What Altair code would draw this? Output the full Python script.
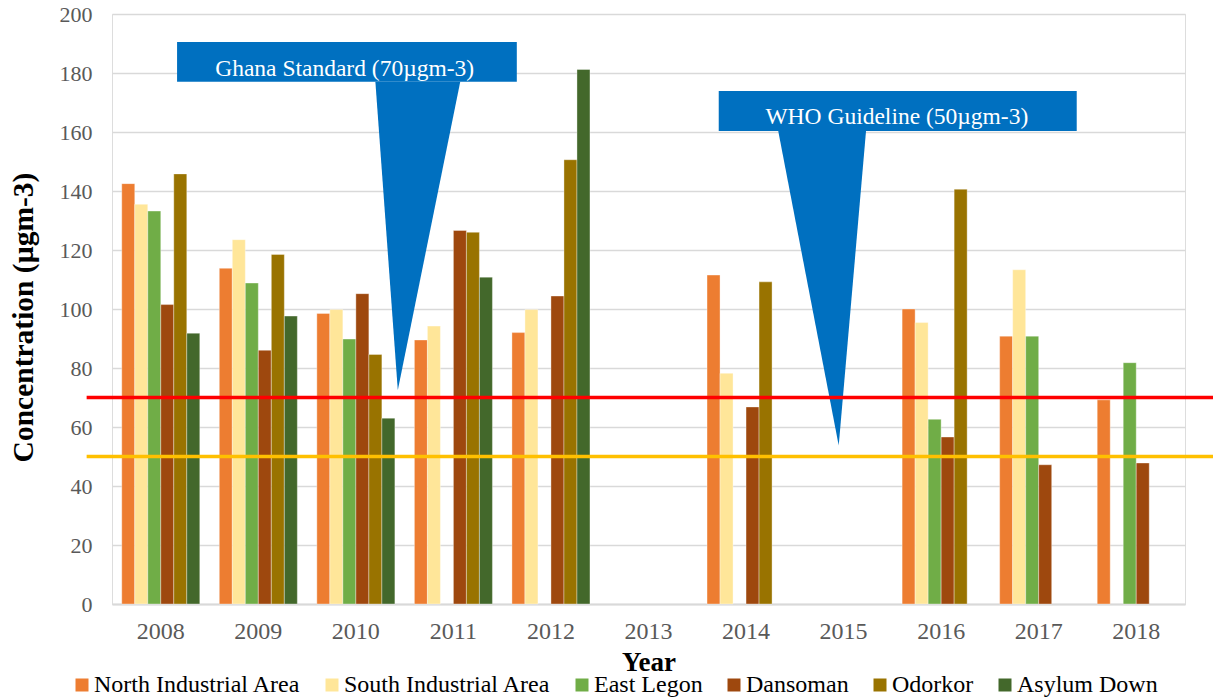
import altair as alt
import pandas as pd

years = ["2008", "2009", "2010", "2011", "2012", "2013", "2014", "2015", "2016", "2017", "2018"]
sites = ["North Industrial Area", "South Industrial Area", "East Legon", "Dansoman", "Odorkor", "Asylum Down"]
colors = ["#ED7D31", "#FFE699", "#70AD47", "#9E480E", "#997300", "#43682B"]

north_industrial = [142.5, 113.8, 98.5, 89.5, 92.0, None, 111.5, None, 100.0, 90.8, 69.2]
south_industrial = [135.5, 123.5, 99.8, 94.2, 99.8, None, 78.2, None, 95.4, 113.3, None]
east_legon = [133.2, 108.8, 89.8, None, None, None, None, None, 62.6, 90.8, 81.8]
dansoman = [101.5, 86.0, 105.2, 126.6, 104.4, None, 66.8, None, 56.6, 47.2, 47.8]
odorkor = [145.8, 118.5, 84.6, 126.0, 150.6, None, 109.2, None, 140.6, None, None]
asylum_down = [91.8, 97.6, 63.0, 110.8, 181.2, None, None, None, None, None, None]

series = [north_industrial, south_industrial, east_legon, dansoman, odorkor, asylum_down]

y_ticks = [0, 20, 40, 60, 80, 100, 120, 140, 160, 180, 200]

# reference lines
ref_values = [70, 50]
ref_colors = ["#FF0000", "#FFC000"]
ref_x1 = [-0.26, -0.26]
ref_x2 = [11.4, 11.4]

# callouts (x in category units from the left edge of the plot, y in data units)
callout_labels = ["Ghana Standard (70µgm-3)", "WHO Guideline (50µgm-3)"]
callout_x1 = [0.667, 6.22]
callout_x2 = [4.15, 9.89]
callout_y1 = [177.0, 160.3]
callout_y2 = [190.5, 173.9]
callout_text_x = [2.385, 8.046]
callout_text_y = [181.5, 165.2]
pointer_group = ["g", "g", "g", "w", "w", "w"]
pointer_x = [2.70, 2.93, 3.57, 6.83, 7.45, 7.73]
pointer_top = [177.0, 177.0, 177.0, 160.3, 160.3, 160.3]
pointer_bottom = [177.0, 72.5, 177.0, 160.3, 53.7, 160.3]

rows = []
for site, vals in zip(sites, series):
    for yr, v in zip(years, vals):
        if v is not None:
            rows.append({"Year": yr, "Site": site, "Value": v})
bars_df = pd.DataFrame(rows)

FONT = "Liberation Serif"

bars = alt.Chart(bars_df).mark_bar(stroke="#ffffff", strokeWidth=0.6, strokeOpacity=0.6).encode(
    x=alt.X("Year:N", scale=alt.Scale(domain=years, paddingInner=0.2, paddingOuter=0.1),
            axis=alt.Axis(title="Year", labelAngle=0, ticks=False, domainColor="#d9d9d9", domainWidth=2,
                          labelFont=FONT, labelFontSize=24, labelColor="#595959", labelPadding=15,
                          titleFont=FONT, titleFontSize=27, titleFontWeight="bold", titleColor="#000000",
                          titlePadding=6, grid=False)),
    xOffset=alt.XOffset("Site:N", scale=alt.Scale(domain=sites, paddingInner=0, paddingOuter=0)),
    y=alt.Y("Value:Q", scale=alt.Scale(domain=[0, 200], nice=False),
            axis=alt.Axis(title="Concentration (µgm-3)", values=y_ticks, grid=True, gridColor="#d9d9d9",
                          gridWidth=1.3, domain=False, ticks=False, labelFont=FONT, labelFontSize=22,
                          labelColor="#595959", labelPadding=20, titleFont=FONT, titleFontSize=29.5,
                          titleFontWeight="bold", titleColor="#000000", titleX=-89, titleY=303,
                          titleAngle=-90, titleAlign="center", titleBaseline="middle")),
    color=alt.Color("Site:N", scale=alt.Scale(domain=sites, range=colors),
                    legend=alt.Legend(title=None, orient="none", legendX=-42, legendY=659,
                                      direction="horizontal", columns=6, columnPadding=19,
                                      symbolType="square", symbolSize=169, symbolStrokeWidth=0,
                                      labelFont=FONT, labelFontSize=24, labelColor="#000000",
                                      labelOffset=0, labelLimit=0)),
)

xq = alt.Scale(domain=[0, 11], nice=False, zero=False)

rect_df = pd.DataFrame({"x1": callout_x1, "x2": callout_x2, "y1": callout_y1, "y2": callout_y2})
rects = alt.Chart(rect_df).mark_rect(color="#0070C0").encode(
    x=alt.X("x1:Q", scale=xq, axis=None), x2="x2:Q",
    y=alt.Y("y1:Q"), y2="y2:Q",
)

ptr_df = pd.DataFrame({"g": pointer_group, "px": pointer_x, "pt": pointer_top, "pb": pointer_bottom})
pointers = alt.Chart(ptr_df).mark_area(color="#0070C0", opacity=1).encode(
    x=alt.X("px:Q", scale=xq, axis=None),
    y=alt.Y("pt:Q", stack=None), y2="pb:Q",
    detail="g:N",
)

text_df = pd.DataFrame({"label": callout_labels, "tx": callout_text_x, "ty": callout_text_y})
texts = alt.Chart(text_df).mark_text(color="#ffffff", font=FONT, fontSize=23.5, align="center",
                                     baseline="middle").encode(
    x=alt.X("tx:Q", scale=xq, axis=None),
    y=alt.Y("ty:Q"),
    text="label:N",
)

ref_df = pd.DataFrame({"v": ref_values, "c": ref_colors, "x1": ref_x1, "x2": ref_x2})
rules = alt.Chart(ref_df).mark_rule(strokeWidth=3.5).encode(
    x=alt.X("x1:Q", scale=xq, axis=None), x2="x2:Q",
    y=alt.Y("v:Q"),
    color=alt.Color("c:N", scale=None, legend=None),
)

annot = alt.layer(rects, pointers, texts, rules)

chart = alt.layer(bars, annot).resolve_scale(x="independent", color="independent").properties(
    width=1073, height=590,
    padding={"left": 104, "top": 6, "right": 28, "bottom": 100},
    autosize=alt.AutoSizeParams(type="none"),
).configure_view(stroke=None).configure(background="#ffffff")

chart.save("out.html", embed_options={"renderer": "svg", "actions": False})
